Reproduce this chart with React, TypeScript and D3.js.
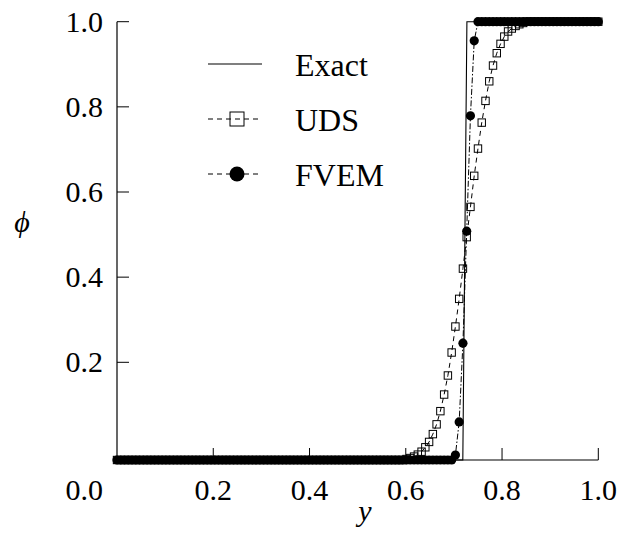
import React, { useEffect, useRef } from 'react';
import * as d3 from 'd3';

// Axis ticks
const xTicks = [0.2, 0.4, 0.6, 0.8, 1.0];
const yTicks = [0.2, 0.4, 0.6, 0.8, 1.0];
const cornerLabel = '0.0';

// Exact solution (step)
const exactY = [0, 0.7185, 0.727, 1];
const exactPhi = [0, 0, 1, 1];

// Mesh nodes along y
const gridN = 128;
const meshY = d3.range(gridN + 1).map((i) => i / gridN);

// UDS solution (129 nodes)
const udsPhi = [
  0, 0, 0, 0, 0, 0, 0, 0, 0, 0, 0, 0, 0, 0, 0, 0, 0, 0, 0, 0,
  0, 0, 0, 0, 0, 0, 0, 0, 0, 0, 0, 0, 0, 0, 0, 0, 0, 0, 0, 0,
  0, 0, 0, 0, 0, 0, 0, 0, 0, 0, 0, 0, 0, 0, 0, 0, 0, 0, 0, 0,
  0, 0, 0, 0, 0, 0, 0, 0, 0, 0, 0, 0, 0, 0, 0, 0, 0,
  0.002, 0.004, 0.007, 0.011, 0.017, 0.026, 0.037, 0.053, 0.073, 0.1,
  0.134, 0.173, 0.223, 0.284, 0.349, 0.42, 0.494, 0.565, 0.638, 0.702,
  0.763, 0.814, 0.86, 0.897, 0.926, 0.948, 0.965, 0.977, 0.984, 0.99,
  0.994, 0.997,
  1, 1, 1, 1, 1, 1, 1, 1, 1, 1, 1, 1, 1, 1, 1, 1, 1, 1, 1, 1,
];

// FVEM solution (129 nodes)
const fvemPhi = [
  0, 0, 0, 0, 0, 0, 0, 0, 0, 0, 0, 0, 0, 0, 0, 0, 0, 0, 0, 0,
  0, 0, 0, 0, 0, 0, 0, 0, 0, 0, 0, 0, 0, 0, 0, 0, 0, 0, 0, 0,
  0, 0, 0, 0, 0, 0, 0, 0, 0, 0, 0, 0, 0, 0, 0, 0, 0, 0, 0, 0,
  0, 0, 0, 0, 0, 0, 0, 0, 0, 0, 0, 0, 0, 0, 0, 0, 0, 0, 0, 0,
  0, 0, 0, 0, 0, 0, 0, 0, 0, 0,
  0.01, 0.078, 0.245, 0.508, 0.779, 0.955,
  1, 1, 1, 1, 1, 1, 1, 1, 1, 1, 1, 1, 1, 1, 1, 1, 1, 1, 1, 1,
  1, 1, 1, 1, 1, 1, 1, 1, 1, 1, 1, 1, 1,
];

const legendLabels = ['Exact', 'UDS', 'FVEM'];

const FONT = 'Liberation Serif';

export default function App() {
  const ref = useRef<SVGSVGElement>(null);

  useEffect(() => {
    const W = 620;
    const H = 536;
    const svg = d3.select(ref.current as SVGSVGElement);
    svg.selectAll('*').remove();
    svg.attr('width', W).attr('height', H);

    const x = d3.scaleLinear().domain([0, 1]).range([117, 598.3]);
    const y = d3.scaleLinear().domain([0, 0.2, 1]).range([460, 362.3, 21.7]);
    const line = d3
      .line<[number, number]>()
      .x((d) => x(d[0]))
      .y((d) => y(d[1]));

    const exactPts: [number, number][] = exactY.map((v, i) => [v, exactPhi[i]]);
    const udsPts: [number, number][] = meshY.map((v, i) => [v, udsPhi[i]]);
    const fvemPts: [number, number][] = meshY.map((v, i) => [v, fvemPhi[i]]);

    const x0 = x(0), x1 = x(1), y0 = y(0), y1 = y(1);
    const tickLen = 12;
    const fs = 30;

    svg.append('rect').attr('width', W).attr('height', H).attr('fill', '#fff');

    const txt = (g: any, s: string, px: number, py: number, size: number, anchor: string, italic = false) =>
      g
        .append('text')
        .attr('x', px)
        .attr('y', py)
        .attr('text-anchor', anchor)
        .attr('font-family', FONT)
        .attr('font-size', size)
        .attr('font-style', italic ? 'italic' : 'normal')
        .style('font-family', `'${FONT}', monospace`)
        .text(s);

    // axes
    svg.append('line').attr('x1', x0).attr('y1', y1).attr('x2', x0).attr('y2', y0)
      .attr('stroke', '#000').attr('stroke-width', 1.2);
    svg.append('line').attr('x1', x0).attr('y1', y0).attr('x2', x1).attr('y2', y0)
      .attr('stroke', '#000').attr('stroke-width', 1.2);
    yTicks.forEach((t) => {
      svg.append('line').attr('x1', x0).attr('y1', y(t)).attr('x2', x0 + tickLen).attr('y2', y(t))
        .attr('stroke', '#000').attr('stroke-width', 1);
      txt(svg, t.toFixed(1), 103, y(t) + 10, fs, 'end');
    });
    xTicks.forEach((t) => {
      svg.append('line').attr('x1', x(t)).attr('y1', y0).attr('x2', x(t)).attr('y2', y0 - tickLen)
        .attr('stroke', '#000').attr('stroke-width', 1);
      txt(svg, t.toFixed(1), x(t), 500, fs, 'middle');
    });
    txt(svg, cornerLabel, 103, 500, fs, 'end');
    txt(svg, 'y', 365, 521, fs, 'middle', true);
    txt(svg, 'ϕ', 22, 232, fs, 'middle', true);

    // exact
    svg.append('path').attr('d', line(exactPts) || '').attr('fill', 'none')
      .attr('stroke', '#000').attr('stroke-width', 1.1);
    // UDS
    svg.append('path').attr('d', line(udsPts) || '').attr('fill', 'none')
      .attr('stroke', '#000').attr('stroke-width', 1).attr('stroke-dasharray', '5,4');
    svg.append('g').selectAll('rect').data(udsPts).join('rect')
      .attr('x', (d) => x(d[0]) - 3.7).attr('y', (d) => y(d[1]) - 3.7)
      .attr('width', 7.4).attr('height', 7.4)
      .attr('fill', 'none').attr('stroke', '#000').attr('stroke-width', 1);
    // FVEM
    svg.append('path').attr('d', line(fvemPts) || '').attr('fill', 'none')
      .attr('stroke', '#000').attr('stroke-width', 1).attr('stroke-dasharray', '6,2,1.5,2');
    svg.append('g').selectAll('circle').data(fvemPts).join('circle')
      .attr('cx', (d) => x(d[0])).attr('cy', (d) => y(d[1])).attr('r', 4.6).attr('fill', '#000');

    // legend
    const legX0 = 208, legX1 = 262, legMid = 237, legTextX = 295;
    const legY = [64, 119, 174];
    svg.append('line').attr('x1', legX0).attr('x2', legX1).attr('y1', legY[0]).attr('y2', legY[0])
      .attr('stroke', '#000').attr('stroke-width', 1.1);
    svg.append('line').attr('x1', legX0).attr('x2', legX1).attr('y1', legY[1]).attr('y2', legY[1])
      .attr('stroke', '#000').attr('stroke-width', 1).attr('stroke-dasharray', '5,4');
    svg.append('rect').attr('x', legMid - 7).attr('y', legY[1] - 7).attr('width', 14).attr('height', 14)
      .attr('fill', 'none').attr('stroke', '#000').attr('stroke-width', 1);
    svg.append('line').attr('x1', legX0).attr('x2', legX1).attr('y1', legY[2]).attr('y2', legY[2])
      .attr('stroke', '#000').attr('stroke-width', 1).attr('stroke-dasharray', '5,4');
    svg.append('circle').attr('cx', legMid).attr('cy', legY[2]).attr('r', 7.5).attr('fill', '#000');
    legendLabels.forEach((l, i) => txt(svg, l, legTextX, legY[i] + 12, 32, 'start'));
  }, []);

  return (
    <svg
      ref={ref}
      width={620}
      height={536}
      style={{ position: 'absolute', left: 0, top: 0, background: '#fff' }}
    />
  );
}
